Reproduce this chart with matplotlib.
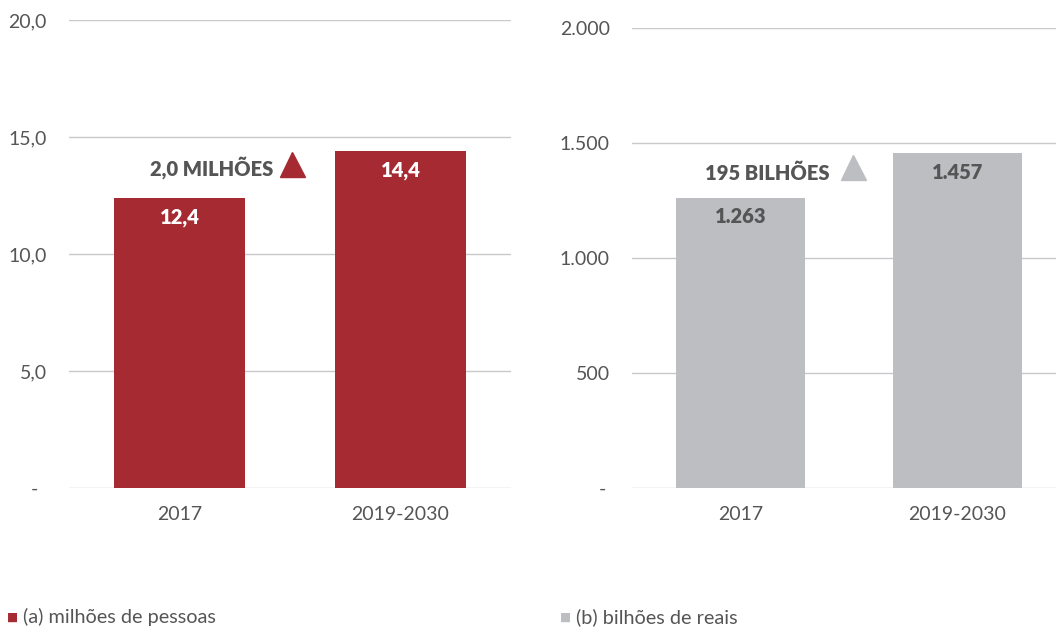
import matplotlib.pyplot as plt
from matplotlib.transforms import ScaledTranslation

plt.rcParams['font.family'] = ['Lato', 'DejaVu Sans']

categories = ['2017', '2019-2030']
pessoas = [12.4, 14.4]
reais = [1263, 1457]
pessoas_labels = ['12,4', '14,4']
reais_labels = ['1.263', '1.457']
left_ticks = [0, 5, 10, 15, 20]
left_ticklabels = ['-', '5,0', '10,0', '15,0', '20,0']
right_ticks = [0, 500, 1000, 1500, 2000]
right_ticklabels = ['-', '500', '1.000', '1.500', '2.000']

red = '#A62A32'
grey = '#BDBEC1'
txt = '#555555'
grid = '#C9C9CD'

fig = plt.figure(figsize=(10.56, 6.3), dpi=100)
ax1 = fig.add_axes([69/1056, 1-488/630, 442/1056, 468/630])
ax2 = fig.add_axes([632/1056, 1-488/630, 434/1056, 460/630])


def style(ax, ticks, ticklabels, top, dash_shift):
    ax.set_xlim(-0.5, 1.5)
    ax.set_ylim(0, top)
    ax.set_yticks(ticks)
    ax.set_yticklabels(ticklabels)
    ax.set_xticks(range(len(categories)))
    ax.set_xticklabels(categories)
    for s in ax.spines.values():
        s.set_visible(False)
    ax.grid(axis='y', color=grid, lw=1)
    ax.set_axisbelow(True)
    ax.tick_params(axis='y', length=0, pad=16, labelsize=14, labelcolor=txt)
    ax.tick_params(axis='x', length=0, pad=13, labelsize=14, labelcolor=txt)
    # the "-" for zero sits a bit further left
    zero = ax.get_yticklabels()[0]
    zero.set_transform(zero.get_transform()
                       + ScaledTranslation(-dash_shift/72, 0, fig.dpi_scale_trans))


style(ax1, left_ticks, left_ticklabels, 20, 6.5)
style(ax2, right_ticks, right_ticklabels, 2000, 2.5)

b1 = ax1.bar(range(len(categories)), pessoas, width=0.59, color=red, zorder=2)
b2 = ax2.bar(range(len(categories)), reais, width=0.59, color=grey, zorder=2)

for rect, lab in zip(b1, pessoas_labels):
    ax1.annotate(lab, (rect.get_x() + rect.get_width()/2, rect.get_height()),
                 xytext=(0, -14), textcoords='offset points', ha='center', va='center',
                 color='white', fontsize=14.5, fontweight='heavy')
for rect, lab in zip(b2, reais_labels):
    ax2.annotate(lab, (rect.get_x() + rect.get_width()/2, rect.get_height()),
                 xytext=(0, -14), textcoords='offset points', ha='center', va='center',
                 color=txt, fontsize=14.5, fontweight='heavy')

ax1.text(0.423, 13.68, '2,0 MILHÕES', ha='right', va='center', color=txt,
         fontsize=14.5, fontweight='heavy')
ax1.plot([0.509], [13.85], marker='^', ms=18, color=red, clip_on=False)
ax2.text(0.412, 1370, '195 BILHÕES', ha='right', va='center', color=txt,
         fontsize=14.5, fontweight='heavy')
ax2.plot([0.518], [1396], marker='^', ms=18, color=grey, clip_on=False)

# legend
fig.text(7/1056, 1-617/630, '\u25A0', color=red, fontsize=8.5, va='center', ha='left')
fig.text(23/1056, 1-617/630, '(a) milhões de pessoas', color=txt, fontsize=14.3,
         va='center', ha='left')
fig.text(560/1056, 1-617/630, '\u25A0', color=grey, fontsize=8.5, va='center', ha='left')
fig.text(576/1056, 1-617/630, '(b) bilhões de reais', color=txt, fontsize=14.3,
         va='center', ha='left')

fig.savefig('out.png', dpi=100)
